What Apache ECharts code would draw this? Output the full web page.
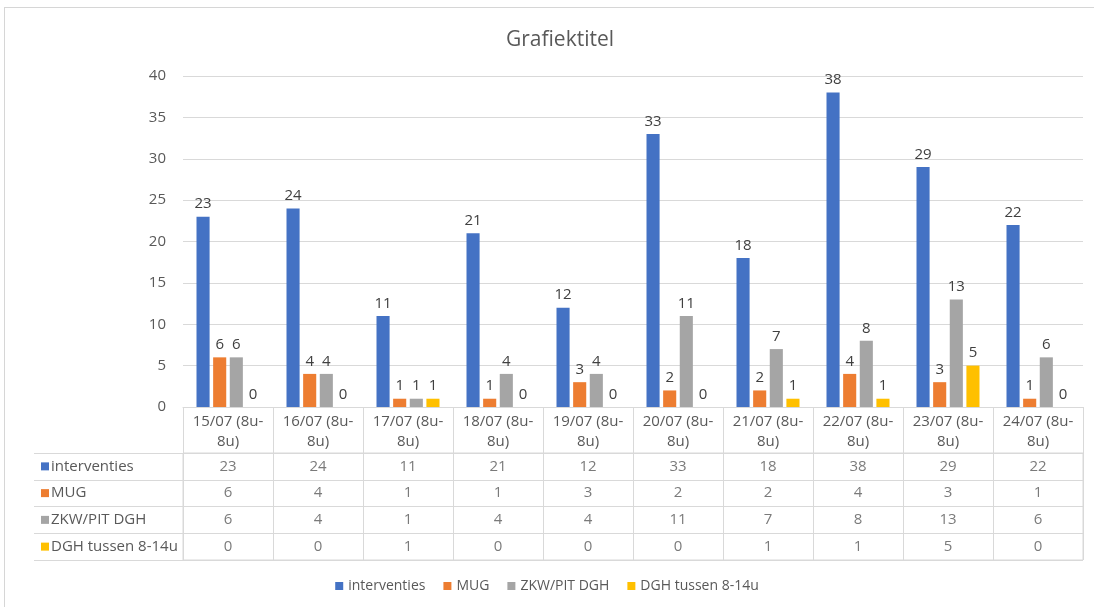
<!DOCTYPE html>
<html>
<head>
<meta charset="utf-8">
<script src="https://cdn.jsdelivr.net/npm/echarts@6/dist/echarts.min.js"></script>
<style>
  html, body { margin: 0; padding: 0; background: #fff; overflow: hidden; }
  #frame { position: absolute; left: 4px; top: 7px; width: 1100px; height: 620px; border: 1px solid #d6d6d6; }
  #chart { position: absolute; left: 0; top: 0; width: 1094px; height: 607px; }
</style>
</head>
<body>
<div id="frame"></div>
<div id="chart"></div>
<script>
// categorieen (x-as)
const categories = ['15/07 (8u-8u)', '16/07 (8u-8u)', '17/07 (8u-8u)', '18/07 (8u-8u)', '19/07 (8u-8u)',
  '20/07 (8u-8u)', '21/07 (8u-8u)', '22/07 (8u-8u)', '23/07 (8u-8u)', '24/07 (8u-8u)']

// reeksen
const seriesNames = ['interventies', 'MUG', 'ZKW/PIT DGH', 'DGH tussen 8-14u']
const interventies = [23, 24, 11, 21, 12, 33, 18, 38, 29, 22]
const mug = [6, 4, 1, 1, 3, 2, 2, 4, 3, 1]
const zkwPit = [6, 4, 1, 4, 4, 11, 7, 8, 13, 6]
const dghTussen = [0, 0, 1, 0, 0, 0, 1, 1, 5, 0]

const colors = ['#4472c4', '#ed7d31', '#a5a5a5', '#ffc000']
const seriesData = [interventies, mug, zkwPit, dghTussen]

const FONT = 'Open Sans'
const TXT = '#595959'
const LINE = '#d9d9d9'

const myChart = echarts.init(document.getElementById('chart'))

// staven
const barSeries = seriesNames.map((name, i) => ({
  type: 'bar',
  name: name,
  data: seriesData[i],
  xAxisIndex: 0,
  yAxisIndex: 0,
  barGap: '27%',
  barCategoryGap: '30%',
  itemStyle: { color: colors[i] },
  label: {
    show: true,
    position: 'top',
    distance: 5,
    color: '#404040',
    fontSize: 15,
    fontFamily: FONT
  }
}))

// gegevenstabel: cellen als labels op een categorie-raster
const cellData = []
seriesData.forEach((row, r) => {
  row.forEach((v, c) => {
    cellData.push([c, r, v])
  })
})

const rich = {}
colors.forEach((c, i) => {
  rich['k' + i] = { backgroundColor: c, width: 8, height: 8 }
})
rich.t = { color: TXT, fontSize: 15, fontFamily: FONT, padding: [0, 0, 0, 2] }

myChart.setOption({
  animation: false,
  textStyle: { fontFamily: FONT },
  title: {
    text: 'Grafiektitel',
    left: 555,
    top: 25,
    textAlign: 'center',
    textStyle: { color: TXT, fontSize: 21, fontWeight: 'normal', fontFamily: FONT }
  },
  legend: {
    data: seriesNames,
    top: 574,
    left: 'center',
    icon: 'rect',
    itemWidth: 8,
    itemHeight: 8,
    itemGap: 18,
    textStyle: { color: TXT, fontSize: 14, fontFamily: FONT }
  },
  grid: [
    { left: 183, right: 11, top: 76, bottom: 200 },
    { left: 183, right: 11, top: 453, height: 107, show: true, borderColor: LINE, borderWidth: 1 }
  ],
  xAxis: [
    {
      gridIndex: 0,
      type: 'category',
      data: categories,
      axisLine: { lineStyle: { color: LINE } },
      axisTick: { show: true, interval: 0, length: 46, lineStyle: { color: LINE } },
      axisLabel: {
        interval: 0,
        margin: 5,
        color: TXT,
        fontSize: 15,
        lineHeight: 20,
        fontFamily: FONT,
        formatter: v => v.replace('-', '-\n')
      }
    },
    {
      gridIndex: 1,
      type: 'category',
      data: categories,
      axisLine: { show: false },
      axisTick: { show: false },
      axisLabel: { show: false },
      splitLine: { show: true, interval: 0, lineStyle: { color: LINE } }
    }
  ],
  yAxis: [
    {
      gridIndex: 0,
      type: 'value',
      min: 0,
      max: 40,
      interval: 5,
      axisLine: { show: false },
      axisTick: { show: false },
      axisLabel: { color: TXT, fontSize: 15, margin: 17, fontFamily: FONT },
      splitLine: { lineStyle: { color: LINE } }
    },
    {
      gridIndex: 1,
      type: 'category',
      inverse: true,
      data: seriesNames,
      axisLine: { show: true, lineStyle: { color: LINE } },
      axisTick: { show: true, interval: 0, length: 149, lineStyle: { color: LINE } },
      axisLabel: {
        interval: 0,
        align: 'left',
        margin: 142,
        formatter: (v, i) => '{k' + i + '|}{t|' + v + '}',
        rich: rich
      },
      splitLine: { show: true, interval: 0, lineStyle: { color: LINE } }
    },
    {
      // linkerrand van de tabel
      gridIndex: 1,
      type: 'category',
      data: seriesNames,
      offset: 149,
      axisLine: { show: true, lineStyle: { color: LINE } },
      axisTick: { show: false },
      axisLabel: { show: false }
    }
  ],
  series: barSeries.concat([
    {
      type: 'scatter',
      name: 'tabel',
      xAxisIndex: 1,
      yAxisIndex: 1,
      data: cellData,
      symbolSize: 1,
      itemStyle: { color: 'rgba(0,0,0,0)' },
      label: {
        show: true,
        position: 'inside',
        formatter: p => String(p.value[2]),
        color: TXT,
        fontSize: 15,
        fontFamily: FONT
      }
    }
  ])
})
</script>
</body>
</html>
